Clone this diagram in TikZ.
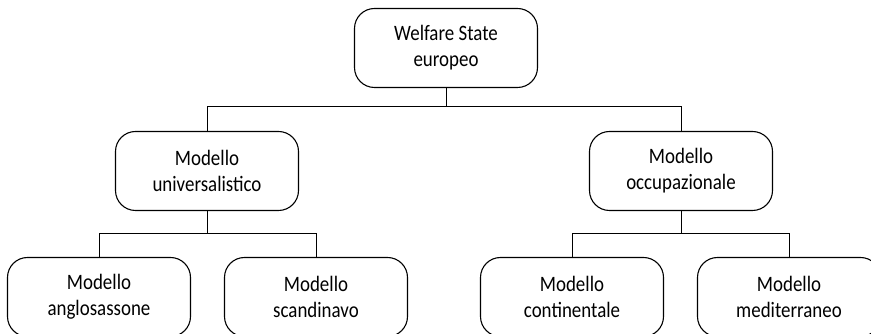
\documentclass[tikz,border=0pt]{standalone}
\usepackage{fontspec}
\setmainfont{Carlito}[FakeStretch=0.86]
\usepackage{tikz}

\begin{document}
\begin{tikzpicture}[x=1pt,y=1pt,
    model/.style={draw,line width=1.1pt,rounded corners=20pt,align=center,
      minimum width=183pt,minimum height=79pt,inner sep=2pt,
      font=\fontsize{22}{26}\selectfont},
    link/.style={line width=0.9pt}]
      \useasboundingbox (0,0) rectangle (871,334);

      \node[model] (welfare) at (446,286) {Welfare State\\europeo};

      \node[model] (univ) at (207,163) {Modello\\universalistico};
      \node[model] (occup) at (681,163) {Modello\\occupazionale};

      \node[model] (anglo) at (99,37) {Modello\\anglosassone};
      \node[model] (scand) at (316,37) {Modello\\scandinavo};
      \node[model] (conti) at (572,37) {Modello\\continentale};
      \node[model] (medit) at (789,37) {Modello\\mediterraneo};

      \draw[link] (welfare.south) -- +(0,-18.5) -| (univ.north);
      \draw[link] (welfare.south) -- +(0,-18.5) -| (occup.north);

      \draw[link] (univ.south) -- +(0,-22.5) -| (anglo.north);
      \draw[link] (univ.south) -- +(0,-22.5) -| (scand.north);
      \draw[link] (occup.south) -- +(0,-22.5) -| (conti.north);
      \draw[link] (occup.south) -- +(0,-22.5) -| (medit.north);
    \end{tikzpicture}
\end{document}
